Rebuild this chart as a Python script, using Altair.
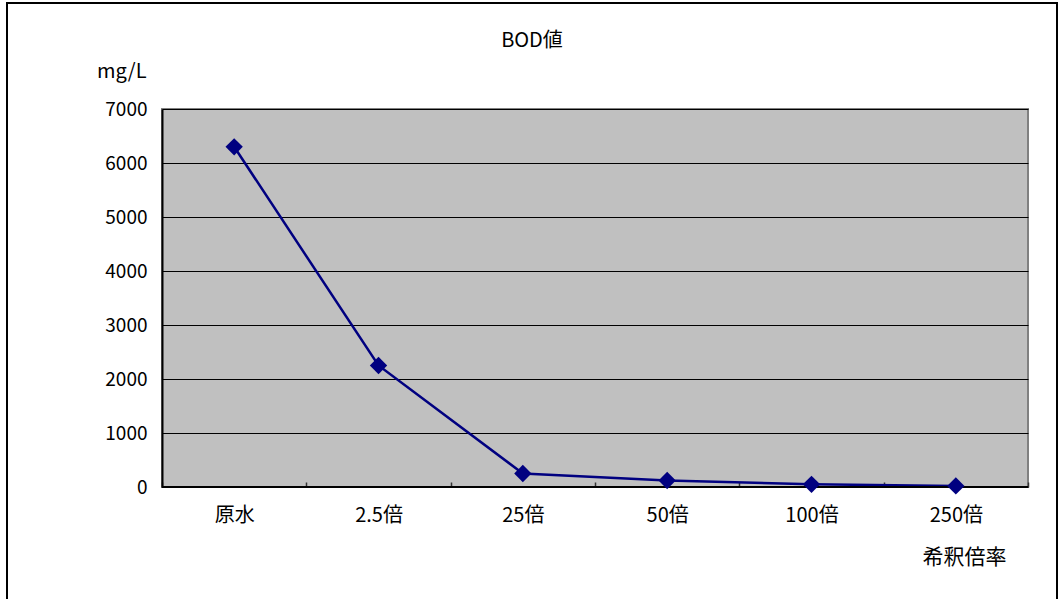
import altair as alt
import pandas as pd

categories = ["原水", "2.5倍", "25倍", "50倍", "100倍", "250倍"]
values = [6300, 2250, 250, 120, 50, 20]
chart_title = ["BOD値"]

df = pd.DataFrame({"cat": categories, "val": values})
FONT = "Noto Sans CJK JP"

x_enc = alt.X(
    "cat:N",
    sort=categories,
    scale=alt.Scale(paddingInner=0, paddingOuter=0),
    axis=alt.Axis(
        orient="bottom",
        offset=-5,
        domain=False,
        tickBand="extent",
        tickSize=5,
        tickColor="#333333",
        tickWidth=1.5,
        labelPadding=18,
        labelAngle=0,
        labelFontSize=20,
        labelFont=FONT,
        labelColor="#000000",
        title="希釈倍率",
        titleFont=FONT,
        titleFontSize=21,
        titleFontWeight="normal",
        titleColor="#000000",
        titleAlign="center",
        titleBaseline="middle",
        titleX=802,
        titleY=75,
    ),
)
y_enc = alt.Y(
    "val:Q",
    scale=alt.Scale(domain=[0, 7000], nice=False),
    axis=alt.Axis(
        values=[0, 1000, 2000, 3000, 4000, 5000, 6000, 7000],
        format="d",
        grid=True,
        gridColor="#000000",
        gridWidth=1,
        domain=True,
        domainColor="#000000",
        domainWidth=2,
        ticks=False,
        labelPadding=15,
        labelFontSize=19,
        labelFont=FONT,
        labelColor="#000000",
        title="mg/L",
        titleAngle=0,
        titleFont=FONT,
        titleFontSize=20,
        titleFontWeight="normal",
        titleColor="#000000",
        titleAlign="right",
        titleBaseline="middle",
        titleX=-16,
        titleY=-38,
    ),
)

base = alt.Chart(df)

line = base.mark_line(color="#000080", strokeWidth=2.5).encode(x=x_enc, y=y_enc)
points = base.mark_point(
    shape="diamond", filled=True, color="#000080", size=300, opacity=1
).encode(x=alt.X("cat:N", sort=categories), y="val:Q")

bottom_rule = base.mark_rule(color="#000000", strokeWidth=2).encode(y=alt.datum(0))

frame = base.mark_rect(fill=None, stroke="#000000", strokeWidth=1.5).encode(
    x=alt.value(-155), x2=alt.value(895), y=alt.value(-106), y2=alt.value(492)
)

title_text = (
    alt.Chart(pd.DataFrame({"t": chart_title}))
    .mark_text(font=FONT, fontSize=20, color="#000000", align="center", baseline="middle")
    .encode(text="t:N", x=alt.value(370), y=alt.value(-68))
)

chart = (
    alt.layer(line, bottom_rule, points, frame, title_text)
    .properties(
        width=866,
        height=378,
        padding={"left": 162, "top": 109, "right": 33, "bottom": 112},
        autosize=alt.AutoSizeParams(type="none"),
        background="#ffffff",
    )
    .configure_view(fill="#C0C0C0", stroke="#808080", strokeWidth=2)
)

chart.save("out.html", embed_options={"renderer": "svg", "actions": False})
